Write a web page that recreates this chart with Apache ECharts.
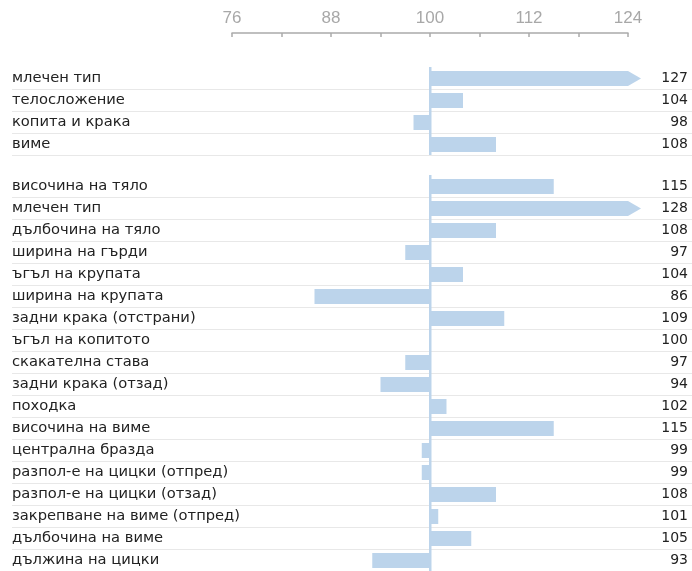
<!DOCTYPE html>
<html><head><meta charset="utf-8">
<script src="https://cdn.jsdelivr.net/npm/echarts@6/dist/echarts.min.js"></script>
<style>html,body{margin:0;padding:0;background:#fff}#c{width:692px;height:571px}</style>
</head><body><div id="c"></div>
<script>
const namesA = ['млечен тип','телосложение','копита и крака','виме'];
const valuesA = [127,104,98,108];
const namesB = ['височина на тяло','млечен тип','дълбочина на тяло','ширина на гърди','ъгъл на крупата','ширина на крупата','задни крака (отстрани)','ъгъл на копитото','скакателна става','задни крака (отзад)','походка','височина на виме','централна бразда','разпол-е на цицки (отпред)','разпол-е на цицки (отзад)','закрепване на виме (отпред)','дълбочина на виме','дължина на цицки'];
const valuesB = [115,128,108,97,104,86,109,100,97,94,102,115,99,99,108,101,105,93];
const tickLabels = [76,88,100,112,124];
const baseValue = 100;
const axisMin = 76, axisMax = 124;

const lo = axisMin - baseValue, hi = axisMax - baseValue;
const barColor = '#bcd4eb';
const font = 'Liberation Sans, Arial, sans-serif';
const textFont = 'DejaVu Sans, sans-serif';

function renderItem(params, api) {
  const v = api.value(0), idx = api.value(1);
  const c0 = api.coord([0, idx]);
  const band = api.size([0, 1])[1];
  const cv = Math.max(lo, Math.min(hi, v));
  const c1 = api.coord([cv, idx]);
  const h = 15;
  const y0 = c0[1] - h / 2 + 0.5;
  const children = [
    {type: 'line', shape: {x1: 12, y1: c0[1] + band / 2 + 0.5, x2: api.getWidth(), y2: c0[1] + band / 2 + 0.5}, style: {stroke: '#e8e8e8', lineWidth: 1}},
    {type: 'rect', shape: {x: Math.min(c0[0], c1[0]), y: y0, width: Math.abs(c1[0] - c0[0]), height: h}, style: {fill: barColor}}
  ];
  if (v > hi) {
    children.push({type: 'polygon', shape: {points: [[c1[0], y0], [c1[0] + 13, y0 + h / 2], [c1[0], y0 + h]]}, style: {fill: barColor}});
  }
  children.push({type: 'rect', shape: {x: c0[0] - 1, y: c0[1] - band / 2, width: 2.5, height: band}, style: {fill: barColor}});
  return {type: 'group', children};
}

function yAxes(grid, names, values) {
  return [
    {gridIndex: grid, type: 'category', inverse: true, data: names,
     axisLine: {show: false}, axisTick: {show: false}, splitLine: {show: false},
     axisLabel: {align: 'left', margin: 220, color: '#222', fontSize: 14.7, fontFamily: textFont}},
    {gridIndex: grid, type: 'category', inverse: true, position: 'right', data: values.map(String),
     axisLine: {show: false}, axisTick: {show: false}, splitLine: {show: false},
     axisLabel: {align: 'right', margin: 60, color: '#222', fontSize: 14, fontFamily: textFont}}
  ];
}

const chart = echarts.init(document.getElementById('c'), null, {renderer: 'canvas'});
chart.setOption({
  animation: false,
  grid: [
    {left: 232, right: 64, top: 67, height: 88},
    {left: 232, right: 64, top: 175, height: 396}
  ],
  xAxis: [
    {gridIndex: 0, type: 'value', min: lo, max: hi, interval: 6, position: 'top', offset: 34,
     axisLine: {show: true, lineStyle: {color: '#aaa', width: 1.5}},
     axisTick: {show: true, inside: true, length: 4, lineStyle: {color: '#aaa', width: 1.5}},
     splitLine: {show: false},
     axisLabel: {color: '#a8a8a8', fontSize: 17, fontFamily: font, margin: 6,
       formatter: v => tickLabels.includes(v + baseValue) ? String(v + baseValue) : ''}},
    {gridIndex: 1, type: 'value', min: lo, max: hi, interval: 6, show: false}
  ],
  yAxis: [...yAxes(0, namesA, valuesA), ...yAxes(1, namesB, valuesB)],
  series: [
    {type: 'custom', xAxisIndex: 0, yAxisIndex: 0, clip: false, renderItem,
     encode: {x: 0, y: 1}, data: valuesA.map((v, i) => [v - baseValue, i])},
    {type: 'custom', xAxisIndex: 1, yAxisIndex: 2, clip: false, renderItem,
     encode: {x: 0, y: 1}, data: valuesB.map((v, i) => [v - baseValue, i])}
  ]
});
</script></body></html>
